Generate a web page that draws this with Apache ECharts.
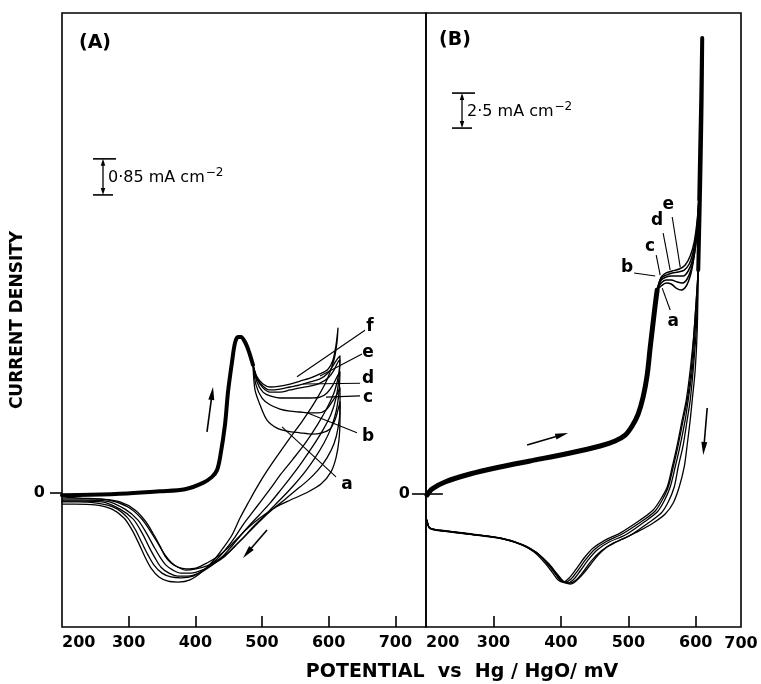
<!DOCTYPE html>
<html>
<head>
<meta charset="utf-8">
<title>Cyclic voltammograms (A) and (B)</title>
<script src="https://cdn.jsdelivr.net/npm/echarts@6.0.0/dist/echarts.min.js"></script>
<style>
  html, body { margin: 0; padding: 0; background: #fff; }
  #chart { width: 761px; height: 684px; }
</style>
</head>
<body>
<div id="chart"></div>
<script>
// potential in mV vs Hg/HgO, current density in mA cm^-2
const xTicksA = [200, 300, 400, 500, 600, 700];
const xTicksB = [200, 300, 400, 500, 600];
const yTicks = [0];
const curveNames = ['a', 'b', 'c', 'd', 'e', 'f'];

// ---- panel A ----
// shared anodic branch up to the peak
const anodicA = [[200,-0.05],[242,-0.04],[297.5,-0.01],[347,0.04],[384.5,0.09],[411.5,0.24],[425,0.38],[432.5,0.54],[437,0.83],[444.5,1.61],[449,2.38],[455,3.09],[459.5,3.54],[464,3.68],[468.5,3.68],[474.5,3.56],[480.5,3.33],[486.5,3.02]];

const curveA_a = [[486.5,3.02],[489.5,2.43],[497,2.08],[507.5,1.72],[522.5,1.53],[537.5,1.46],[557,1.42],[575,1.39],[590,1.42],[602,1.51],[609.5,1.72],[614,1.96],[617,2.15],[617,1.72],[615.5,1.25],[611,0.83],[603.5,0.50],[588.5,0.21],[566,0.00],[542,-0.17],[521,-0.33],[504.5,-0.50],[489.5,-0.68],[476,-0.87],[462.5,-1.08],[449,-1.30],[434,-1.49],[417.5,-1.65],[401,-1.77],[386,-1.79],[374,-1.75],[363.5,-1.65],[354.5,-1.49],[347,-1.25],[338,-0.99],[326,-0.68],[309.5,-0.40],[287,-0.21],[257,-0.14],[227,-0.12],[200,-0.09]];
const curveA_b = [[486.5,3.02],[491,2.55],[500,2.24],[512,2.08],[527,1.98],[542,1.93],[557,1.91],[572,1.89],[584,1.89],[596,1.96],[605,2.15],[612.5,2.33],[617,2.48],[617,2.00],[614,1.53],[608,1.16],[597.5,0.83],[584,0.54],[567.5,0.28],[549.5,0.05],[533,-0.17],[516.5,-0.38],[501.5,-0.59],[488,-0.80],[476,-0.99],[464,-1.18],[450.5,-1.39],[434,-1.58],[417.5,-1.72],[401,-1.79],[386,-1.82],[374,-1.75],[363.5,-1.63],[354.5,-1.46],[345.5,-1.23],[333.5,-0.92],[318.5,-0.59],[299,-0.33],[270.5,-0.17],[236,-0.14],[200,-0.14]];
const curveA_c = [[486.5,3.02],[492.5,2.62],[501.5,2.38],[512,2.29],[527,2.24],[542,2.24],[557,2.24],[572,2.24],[587,2.26],[597.5,2.36],[606.5,2.55],[612.5,2.74],[617,2.85],[615.5,2.38],[611,1.91],[603.5,1.53],[593,1.18],[579.5,0.83],[564.5,0.50],[548,0.19],[531.5,-0.09],[516.5,-0.33],[501.5,-0.57],[486.5,-0.80],[473,-1.04],[459.5,-1.25],[444.5,-1.49],[428,-1.67],[410,-1.82],[393.5,-1.89],[378.5,-1.89],[366.5,-1.82],[356,-1.70],[347,-1.51],[338,-1.27],[327.5,-0.97],[314,-0.64],[294.5,-0.38],[266,-0.19],[233,-0.17],[200,-0.17]];
const curveA_d = [[486.5,3.02],[492.5,2.69],[501.5,2.48],[512,2.38],[527,2.38],[542,2.43],[557,2.48],[572,2.52],[587,2.59],[599,2.71],[608,2.90],[614,3.09],[617,3.14],[615.5,2.71],[611,2.24],[603.5,1.86],[591.5,1.49],[576.5,1.11],[560,0.73],[543.5,0.38],[527,0.05],[512,-0.24],[497,-0.50],[482,-0.75],[468.5,-0.99],[455,-1.25],[440,-1.51],[423.5,-1.72],[405.5,-1.89],[389,-1.96],[374,-1.96],[360.5,-1.89],[348.5,-1.75],[339.5,-1.53],[330.5,-1.27],[320,-0.94],[306.5,-0.61],[287,-0.38],[260,-0.21],[227,-0.19],[200,-0.19]];
const curveA_e = [[486.5,3.02],[492.5,2.71],[501.5,2.52],[512,2.43],[527,2.45],[542,2.50],[557,2.55],[572,2.62],[587,2.69],[599,2.83],[608,3.04],[614,3.18],[617,3.23],[615.5,2.85],[609.5,2.43],[599,2.05],[584,1.63],[566,1.20],[546.5,0.80],[528.5,0.45],[512,0.09],[498.5,-0.19],[485,-0.47],[471.5,-0.75],[459.5,-1.04],[446,-1.32],[431,-1.58],[414.5,-1.79],[396.5,-1.96],[378.5,-2.00],[363.5,-1.98],[350,-1.89],[338,-1.70],[329,-1.46],[320,-1.18],[309.5,-0.85],[297.5,-0.57],[279.5,-0.35],[252.5,-0.24],[222.5,-0.21],[200,-0.21]];
const curveA_f = [[486.5,3.02],[492.5,2.74],[501.5,2.57],[512,2.50],[527,2.52],[542,2.57],[557,2.64],[572,2.71],[587,2.81],[599,2.92],[606.5,3.14],[611,3.49],[614,3.89],[612.5,3.56],[608,3.14],[597.5,2.67],[581,2.19],[561.5,1.72],[542,1.30],[524,0.90],[507.5,0.52],[492.5,0.14],[479,-0.24],[467,-0.59],[455,-0.99],[443,-1.27],[428,-1.58],[411.5,-1.84],[392,-2.05],[374,-2.10],[359,-2.08],[345.5,-1.98],[333.5,-1.77],[324.5,-1.51],[315.5,-1.20],[305,-0.87],[293,-0.59],[275,-0.38],[249.5,-0.28],[219.5,-0.26],[200,-0.26]];

// ---- panel B ----
const anodicB = [[201.5,-0.07],[208.9,0.36],[228.2,0.86],[265.3,1.43],[309.8,1.93],[354.3,2.36],[413.7,2.93],[458.2,3.43],[480.4,3.79],[495.3,4.21],[505.6,4.86],[514.5,5.71],[521.9,6.93],[527.9,8.5],[532.3,10.43],[536.8,12.29],[539.8,13.5],[542.7,14.57]];

const humpB_a = [[542.7,14.57],[548.7,14.86],[556.1,15.07],[563.5,15.0],[570.9,14.71],[578.3,14.57],[585.8,14.86],[591.7,15.57],[596.1,16.57],[600.6,18.14],[603.6,20.29],[605.1,22.0]];
const humpB_b = [[542.7,14.57],[548.7,15.07],[556.1,15.29],[563.5,15.29],[572.4,15.14],[579.8,15.07],[587.2,15.36],[593.2,16.07],[597.6,17.07],[602.1,18.71],[605.1,21.0],[605.8,22.5]];
const humpB_c = [[542.7,14.57],[548.7,15.29],[556.1,15.5],[563.5,15.57],[572.4,15.57],[581.3,15.57],[588.7,15.93],[594.7,16.64],[599.1,17.79],[603.6,19.57],[605.1,21.36],[606.0,23.0]];
const humpB_d = [[542.7,14.57],[548.7,15.43],[556.1,15.64],[565.0,15.79],[573.9,15.86],[582.8,16.0],[590.2,16.43],[596.1,17.29],[600.6,18.5],[603.6,20.29],[606.0,22.5]];
const humpB_e = [[542.7,14.57],[548.7,15.5],[556.1,15.79],[565.0,15.93],[575.4,16.07],[584.3,16.36],[591.7,17.0],[597.6,18.0],[602.1,19.57],[605.1,21.36],[606.3,23.0]];

// shared steep part up to the switching potential and back
const vertexB = [[605.1,21.0],[606.5,24.6],[608.0,28.1],[609.5,32.57],[608.6,28.1],[607.2,24.0],[605.5,20.0],[603.6,16.0]];

const cathodicB_a = [[603.6,16.0],[602.1,11.71],[599.1,8.86],[594.7,6.71],[591.7,5.29],[587.2,3.5],[582.8,1.93],[575.4,0.5],[566.5,-0.64],[554.6,-1.43],[536.8,-2.07],[513.1,-2.71],[487.8,-3.29],[468.6,-3.79],[455.2,-4.36],[443.3,-5.07],[432.9,-5.71],[422.6,-6.21],[413.7,-6.43],[404.8,-6.29],[395.9,-5.86],[384.0,-5.14],[367.7,-4.36],[345.4,-3.71],[314.2,-3.21],[269.7,-2.86],[231.2,-2.64],[205.9,-2.43],[201.5,-1.86]];
const cathodicB_b = [[603.6,16.0],[600.6,11.71],[596.1,8.86],[591.7,6.71],[587.2,5.29],[581.3,3.5],[573.9,1.93],[568.0,0.5],[559.1,-0.57],[548.7,-1.36],[529.4,-2.07],[501.2,-3.0],[477.5,-3.5],[459.6,-4.07],[444.8,-4.79],[432.9,-5.57],[422.6,-6.14],[412.2,-6.36],[403.3,-6.21],[394.4,-5.71],[382.5,-5.0],[366.2,-4.29],[343.9,-3.64],[312.8,-3.2],[268.3,-2.9],[231.2,-2.68],[205.9,-2.47],[201.5,-1.9]];
const cathodicB_c = [[603.6,16.0],[599.1,11.71],[594.7,8.86],[588.7,6.71],[584.3,5.29],[576.9,3.5],[569.4,1.93],[562.0,0.5],[553.1,-0.5],[542.7,-1.29],[523.4,-2.0],[495.3,-2.93],[471.5,-3.43],[453.7,-4.0],[440.4,-4.71],[428.5,-5.5],[418.1,-6.14],[409.2,-6.36],[400.3,-6.21],[391.4,-5.64],[379.5,-4.93],[364.7,-4.21],[342.4,-3.64],[311.3,-3.17],[266.8,-2.88],[229.7,-2.66],[205.9,-2.45],[201.5,-1.9]];
const cathodicB_d = [[603.6,16.0],[597.6,11.71],[593.2,8.86],[587.2,6.71],[581.3,5.29],[573.9,3.5],[566.5,1.93],[559.1,0.5],[550.2,-0.43],[539.8,-1.21],[520.5,-1.93],[490.8,-2.86],[468.6,-3.36],[450.7,-3.93],[437.4,-4.64],[425.5,-5.43],[415.1,-6.07],[406.2,-6.29],[398.8,-6.14],[389.9,-5.57],[378.0,-4.86],[363.2,-4.14],[341.0,-3.57],[309.8,-3.14],[265.3,-2.86],[228.2,-2.64],[205.9,-2.43],[201.5,-1.86]];
const cathodicB_e = [[603.6,16.0],[597.6,11.71],[591.7,8.86],[585.8,6.71],[579.8,5.29],[572.4,3.5],[565.0,1.93],[557.6,0.5],[547.2,-0.43],[536.8,-1.14],[517.5,-1.86],[487.8,-2.79],[465.6,-3.29],[447.8,-3.86],[434.4,-4.57],[422.6,-5.36],[412.2,-6.0],[403.3,-6.29],[395.9,-6.14],[386.9,-5.57],[375.1,-4.86],[360.2,-4.14],[339.5,-3.57],[309.8,-3.14],[265.3,-2.86],[228.2,-2.64],[205.9,-2.43],[201.5,-1.86]];

// annotation anchors (data coordinates)
const labelPosA = [[627.5,0.21],[659,1.34],[659,2.26],[659,2.69],[659,3.30],[662,3.92]];
const leaderA = [[[611,0.38],[530,1.56]],[[642.5,1.42],[567.5,1.89]],[[647,2.29],[596,2.26]],[[647,2.59],[561.5,2.57]],[[650,3.28],[587,2.76]],[[654.5,3.84],[552.5,2.74]]];
const labelPosB = [[566.5,12.29],[498.2,16.14],[532.3,17.64],[542.7,19.5],[559.1,20.64]];
const leaderB = [[[562.0,13.14],[550.2,14.71]],[[508.6,15.79],[539.8,15.57]],[[541.3,17.07],[547.2,15.64]],[[551.6,18.64],[562.0,16.0]],[[565.0,19.79],[576.9,16.21]]];
const sweepArrowsA = [[[417.5,1.44],[426.5,2.50]],[[507.5,-0.87],[471.5,-1.53]]];
const sweepArrowsB = [[[349.9,3.5],[410.7,4.36]],[[616.9,6.14],[611.0,2.79]]];
const scaleA = { at: [261.5, 7.03], size: 0.85, text: '0·85' };
const scaleB = { at: [253.4, 26.14], size: 2.5, text: '2·5' };

var chart = echarts.init(document.getElementById('chart'), null, { renderer: 'canvas' });
var FONT = '"DejaVu Sans", sans-serif';

function trace(name, data, grid, width) {
  return {
    name: name, type: 'line', data: data,
    xAxisIndex: grid, yAxisIndex: grid,
    symbol: 'none', showSymbol: false, smooth: 0.3,
    lineStyle: { color: '#000', width: width, cap: 'round', join: 'round' },
    silent: true, animation: false
  };
}

var series = [];
[curveA_a, curveA_b, curveA_c, curveA_d, curveA_e, curveA_f].forEach(function (d, i) {
  series.push(trace('A ' + curveNames[i], d, 0, 1.3));
});
series.push(trace('A anodic', anodicA, 0, 4));
[humpB_a, humpB_b, humpB_c, humpB_d, humpB_e].forEach(function (d, i) {
  series.push(trace('B ' + curveNames[i] + ' anodic', d, 1, 1.5));
});
[cathodicB_a, cathodicB_b, cathodicB_c, cathodicB_d, cathodicB_e].forEach(function (d, i) {
  series.push(trace('B ' + curveNames[i] + ' cathodic', d, 1, 1.3));
});
series.push(trace('B anodic', anodicB, 1, 5));
series.push(trace('B vertex', vertexB, 1, 4));

function xAxis(grid, max, labels) {
  return {
    type: 'value', gridIndex: grid, min: 200, max: max,
    axisLine: { show: false, onZero: false }, splitLine: { show: false },
    axisTick: { show: true, inside: true, length: 11, customValues: labels.slice(1),
      lineStyle: { color: '#000', width: 1.6 } },
    axisLabel: { customValues: labels, margin: 8, color: '#000', fontSize: 16, fontWeight: 'bold',
      fontFamily: FONT, alignMinLabel: 'left' }
  };
}

function yAxis(grid, min, max, tickLen, margin) {
  return {
    type: 'value', gridIndex: grid, min: min, max: max,
    axisLine: { show: false, onZero: false }, splitLine: { show: false },
    axisTick: { show: true, customValues: yTicks, length: tickLen, lineStyle: { color: '#000', width: 1.6 } },
    axisLabel: { customValues: yTicks, margin: margin, color: '#000', fontSize: 16, fontWeight: 'bold', fontFamily: FONT }
  };
}

var yA = yAxis(0, -3.16, 11.32, 12, 17);
yA.name = 'CURRENT DENSITY';
yA.nameLocation = 'middle';
yA.nameGap = 36;
yA.nameRotate = 90;
yA.nameTextStyle = { color: '#000', fontSize: 17, fontWeight: 'bold', fontFamily: FONT };

chart.setOption({
  backgroundColor: '#fff',
  animation: false,
  textStyle: { fontFamily: FONT, color: '#000' },
  grid: [
    { left: 62, top: 13, width: 364, height: 614, show: true, borderColor: '#000', borderWidth: 1.6, backgroundColor: 'transparent' },
    { left: 426, top: 13, width: 315, height: 614, show: true, borderColor: '#000', borderWidth: 1.6, backgroundColor: 'transparent' }
  ],
  xAxis: [xAxis(0, 746, xTicksA), xAxis(1, 667, xTicksB)],
  yAxis: [yA, yAxis(1, -9.5, 34.36, 14, 16)],
  series: series
});

// annotations: curve letters, leaders, sweep arrows, scale bars, titles
var g = [];
function px(grid, p) { return chart.convertToPixel({ gridIndex: grid }, p); }
function seg(a, b, w) {
  g.push({ type: 'line', silent: true, z: 20,
    shape: { x1: a[0], y1: a[1], x2: b[0], y2: b[1] },
    style: { stroke: '#000', lineWidth: w } });
}
function head(a, b, len, wid) {
  var dx = b[0] - a[0], dy = b[1] - a[1], L = Math.sqrt(dx * dx + dy * dy);
  var ux = dx / L, uy = dy / L, bx = b[0] - ux * len, by = b[1] - uy * len;
  g.push({ type: 'polygon', silent: true, z: 20,
    shape: { points: [[b[0], b[1]], [bx - uy * wid / 2, by + ux * wid / 2], [bx + uy * wid / 2, by - ux * wid / 2]] },
    style: { fill: '#000' } });
}
function label(p, s, font, align) {
  g.push({ type: 'text', silent: true, z: 20, x: p[0], y: p[1],
    style: { text: s, font: font, fill: '#000', align: align || 'center', verticalAlign: 'middle',
      textAlign: align || 'center', textVerticalAlign: 'middle' } });
}
function arrow(grid, pair) {
  var a = px(grid, pair[0]), b = px(grid, pair[1]);
  var dx = b[0] - a[0], dy = b[1] - a[1], L = Math.sqrt(dx * dx + dy * dy);
  seg(a, [b[0] - dx / L * 8, b[1] - dy / L * 8], 1.6);
  head(a, b, 13, 6);
}
function scaleBar(grid, sb) {
  var bot = px(grid, sb.at), top = px(grid, [sb.at[0], sb.at[1] + sb.size]);
  seg([top[0] - 10, top[1]], [top[0] + 13, top[1]], 1.6);
  seg([bot[0] - 10, bot[1]], [bot[0] + 10, bot[1]], 1.6);
  seg([top[0], top[1] + 4], [bot[0], bot[1] - 4], 1.3);
  head(bot, top, 7, 4.5);
  head(top, bot, 7, 4.5);
  g.push({ type: 'text', silent: true, z: 20, x: top[0] + 5, y: (top[1] + bot[1]) / 2 + 1,
    style: { text: '{m|' + sb.text + ' mA cm}{s|−2}', fill: '#000', align: 'left', verticalAlign: 'middle',
      textAlign: 'left', textVerticalAlign: 'middle',
      rich: { m: { fontSize: 16, fontFamily: FONT, fill: '#000' },
              s: { fontSize: 12, fontFamily: FONT, fill: '#000', padding: [0, 0, 10, 1] } } } });
}

var letterFont = 'bold 17px ' + FONT;
curveNames.forEach(function (n, i) {
  seg(px(0, leaderA[i][0]), px(0, leaderA[i][1]), 1.1);
  label(px(0, labelPosA[i]), n, letterFont);
});
curveNames.slice(0, 5).forEach(function (n, i) {
  seg(px(1, leaderB[i][0]), px(1, leaderB[i][1]), 1.1);
  label(px(1, labelPosB[i]), n, letterFont);
});
sweepArrowsA.forEach(function (p) { arrow(0, p); });
sweepArrowsB.forEach(function (p) { arrow(1, p); });
scaleBar(0, scaleA);
scaleBar(1, scaleB);

// zero marker of panel B crosses its axis
seg(px(1, [200, 0]), px(1, [225, 0]), 1.6);
// frame edge of panel B carries the 700 label
var edgeB = px(1, [667, -9.5]);
label([edgeB[0], edgeB[1] + 17], '700', 'bold 16px ' + FONT);

label([95, 43], '(A)', 'bold 19px ' + FONT);
label([455, 40], '(B)', 'bold 19px ' + FONT);
label([462, 672], 'POTENTIAL  vs  Hg / HgO/ mV', 'bold 19px ' + FONT);

chart.setOption({ graphic: { elements: g } });
</script>
</body>
</html>
